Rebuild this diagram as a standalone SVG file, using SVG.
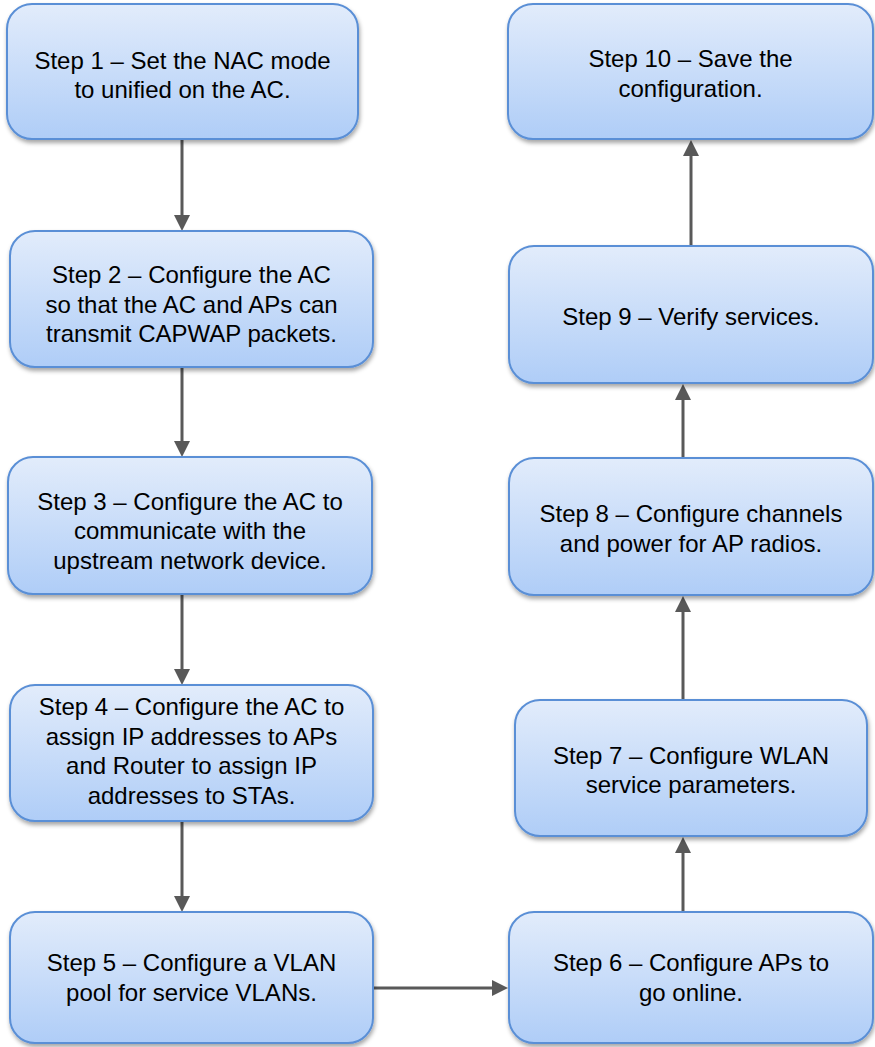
<svg xmlns="http://www.w3.org/2000/svg" width="875" height="1047" viewBox="0 0 875 1047">
  <defs>
    <linearGradient id="boxFill" x1="0" y1="0" x2="0" y2="1">
      <stop offset="0" stop-color="#E2ECFB"/>
      <stop offset="1" stop-color="#AFCDF7"/>
    </linearGradient>
    <filter id="shadow" x="-10%" y="-10%" width="120%" height="130%">
      <feDropShadow dx="1" dy="3" stdDeviation="2" flood-color="#000" flood-opacity="0.35"/>
    </filter>
    <marker id="arrow" markerUnits="userSpaceOnUse" markerWidth="17" markerHeight="17" refX="6" refY="8" orient="auto">
      <path d="M0,0 L16,8 L0,16 z" fill="#595959"/>
    </marker>
  </defs>
  <style>
    .box { fill: url(#boxFill); stroke: #5A8FD6; stroke-width: 2; filter: url(#shadow); }
    .label { font-family: "Liberation Sans", Arial, sans-serif; font-size: 24px; fill: #000; text-anchor: middle; }
    .conn { stroke: #595959; stroke-width: 3; fill: none; marker-end: url(#arrow); }
  </style>

  <!-- connectors -->
  <g id="connectors">
    <line class="conn" x1="182" y1="140" x2="182" y2="221"/>
    <line class="conn" x1="182" y1="368" x2="182" y2="447"/>
    <line class="conn" x1="182" y1="595" x2="182" y2="675"/>
    <line class="conn" x1="182" y1="822" x2="182" y2="902"/>
    <line class="conn" x1="373" y1="988" x2="498" y2="988"/>
    <line class="conn" x1="683" y1="911" x2="683" y2="847"/>
    <line class="conn" x1="683" y1="699" x2="683" y2="606"/>
    <line class="conn" x1="683" y1="457" x2="683" y2="394"/>
    <line class="conn" x1="691" y1="245" x2="691" y2="150"/>
  </g>

  <g id="step1">
    <rect class="box" x="7" y="4" width="351" height="135" rx="25"/>
    <text class="label"><tspan x="182.5" y="68.5">Step 1 – Set the NAC mode</tspan><tspan x="182.5" y="98">to unified on the AC.</tspan></text>
  </g>
  <g id="step2">
    <rect class="box" x="10" y="231" width="363" height="136" rx="25"/>
    <text class="label"><tspan x="191.5" y="283">Step 2 – Configure the AC</tspan><tspan x="191.5" y="312.5">so that the AC and APs can</tspan><tspan x="191.5" y="342">transmit CAPWAP packets.</tspan></text>
  </g>
  <g id="step3">
    <rect class="box" x="8" y="457" width="364" height="137" rx="25"/>
    <text class="label"><tspan x="190" y="509.5">Step 3 – Configure the AC to</tspan><tspan x="190" y="539">communicate with the</tspan><tspan x="190" y="568.5">upstream network device.</tspan></text>
  </g>
  <g id="step4">
    <rect class="box" x="10" y="685" width="363" height="136" rx="25"/>
    <text class="label"><tspan x="191.5" y="715">Step 4 – Configure the AC to</tspan><tspan x="191.5" y="744.5">assign IP addresses to APs</tspan><tspan x="191.5" y="774">and Router to assign IP</tspan><tspan x="191.5" y="803.5">addresses to STAs.</tspan></text>
  </g>
  <g id="step5">
    <rect class="box" x="10" y="912" width="363" height="131" rx="25"/>
    <text class="label"><tspan x="191.5" y="971">Step 5 – Configure a VLAN</tspan><tspan x="191.5" y="1000.5">pool for service VLANs.</tspan></text>
  </g>
  <g id="step6">
    <rect class="box" x="509" y="912" width="364" height="131" rx="25"/>
    <text class="label"><tspan x="691" y="971">Step 6 – Configure APs to</tspan><tspan x="691" y="1000.5">go online.</tspan></text>
  </g>
  <g id="step7">
    <rect class="box" x="515" y="700" width="352" height="136" rx="25"/>
    <text class="label"><tspan x="691" y="763.9">Step 7 – Configure WLAN</tspan><tspan x="691" y="793.4">service parameters.</tspan></text>
  </g>
  <g id="step8">
    <rect class="box" x="509" y="458" width="364" height="137" rx="25"/>
    <text class="label"><tspan x="691" y="522.4">Step 8 – Configure channels</tspan><tspan x="691" y="551.9">and power for AP radios.</tspan></text>
  </g>
  <g id="step9">
    <rect class="box" x="509" y="246" width="364" height="137" rx="25"/>
    <text class="label"><tspan x="691" y="325.1">Step 9 – Verify services.</tspan></text>
  </g>
  <g id="step10">
    <rect class="box" x="508" y="4" width="365" height="135" rx="25"/>
    <text class="label"><tspan x="690.5" y="67.4">Step 10 – Save the</tspan><tspan x="690.5" y="96.9">configuration.</tspan></text>
  </g>
</svg>
